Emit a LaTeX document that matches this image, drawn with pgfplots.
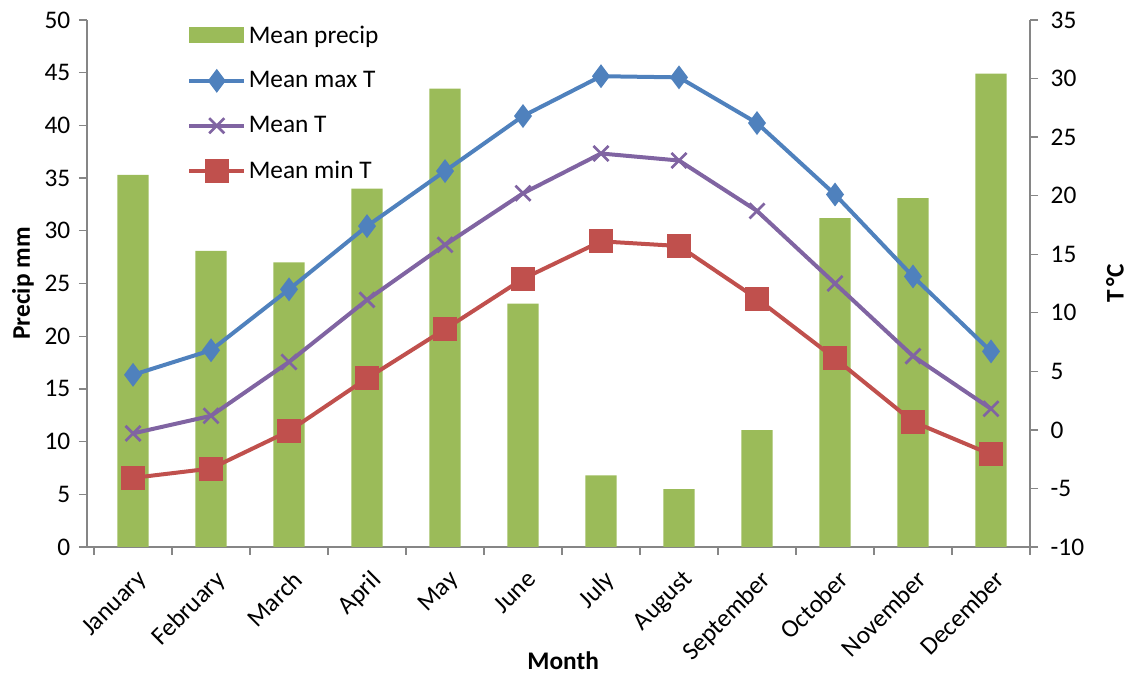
\documentclass[border=0pt]{standalone}
\usepackage{pgfplots}
\pgfplotsset{compat=1.18}
\usepackage{fontspec}
\setmainfont{Carlito}

\definecolor{precipgreen}{HTML}{9BBB59}
\definecolor{maxblue}{HTML}{4F81BD}
\definecolor{meanpurple}{HTML}{8064A2}
\definecolor{minred}{HTML}{C0504D}
\definecolor{axisgray}{HTML}{868686}

\pgfplotsset{
  climate base/.style={
    scale only axis,
    width=707.25pt, height=395.25pt,
    xmin=-0.59, xmax=11.5,
    tick align=outside,
    major tick length=6pt, minor tick length=6pt,
    axis line style={axisgray, line width=1pt, -},
    every tick/.style={axisgray, line width=1pt},
    /pgf/number format/assume math mode=true,
  },
  temp line legend/.style={
    legend image code/.code={
      \draw[##1] (0pt,0pt) -- (41pt,0pt);
      \draw[##1, mark repeat=2, mark phase=2] plot coordinates {(0pt,0pt) (20.5pt,0pt) (41pt,0pt)};
    }
  },
}

\begin{document}
\begin{tikzpicture}[font=\fontsize{19}{22}\selectfont]
\useasboundingbox (-65.25pt,-97.5pt) rectangle (783.75pt,410.25pt);
% precipitation bars on the left axis
\begin{axis}[
  climate base,
  ymin=0, ymax=50,
  axis x line*=bottom, axis y line*=left,
  ytick={0,5,...,50},
  yticklabel style={xshift=-3pt},
  xtick={0,...,11},
  xticklabels={January,February,March,April,May,June,July,August,September,October,November,December},
  major x tick style={draw=none},
  minor xtick={-0.5,0.5,...,11.5},
  xticklabel style={yshift=-9pt, xshift=2pt, rotate=45, anchor=north east, inner sep=1pt},
  ylabel={\bfseries Precip mm},
  ylabel style={at={(axis description cs:-0.068,0.5)}, anchor=center},
  xlabel={\bfseries Month},
  xlabel style={at={(axis description cs:0.505,-0.215)}, anchor=center},
]
\addplot[ybar, bar width=0.4, fill=precipgreen, draw=none] coordinates {
  (0,35.3) (1,28.1) (2,27.0) (3,34.0) (4,43.5) (5,23.1)
  (6,6.8) (7,5.5) (8,11.1) (9,31.2) (10,33.1) (11,44.9)
};
\end{axis}
% temperature lines on the right axis
\begin{axis}[
  climate base,
  ymin=-10, ymax=35,
  axis y line*=right, axis x line=none,
  ytick={-10,-5,...,35},
  yticklabel style={xshift=6pt},
  ylabel={\bfseries T\,°C},
  ylabel style={at={(axis description cs:1.09,0.5)}, anchor=center},
  legend style={at={(0.102,1.0)}, anchor=north west, draw=none, fill=none,
    row sep=16pt, font=\fontsize{19}{22}\selectfont},
  legend cell align=left,
]
\addlegendimage{area legend, fill=precipgreen, draw=none,
  legend image code/.code={\fill[precipgreen] (0pt,-6pt) rectangle (41pt,6pt);}}
\addlegendentry{Mean precip}
\addplot[maxblue, line width=3pt, mark=diamond*, mark size=6.5pt, temp line legend] coordinates {
  (0,4.7) (1,6.8) (2,12.0) (3,17.4) (4,22.1) (5,26.8)
  (6,30.2) (7,30.1) (8,26.2) (9,20.1) (10,13.1) (11,6.7)
};
\addlegendentry{Mean max T}
\addplot[meanpurple, line width=3pt, mark=x, mark size=8pt, mark options={line width=2pt}, temp line legend] coordinates {
  (0,-0.3) (1,1.2) (2,5.8) (3,11.1) (4,15.8) (5,20.2)
  (6,23.6) (7,23.0) (8,18.7) (9,12.5) (10,6.3) (11,1.8)
};
\addlegendentry{Mean T}
\addplot[minred, line width=3pt, mark=square*, mark size=7.5pt, temp line legend] coordinates {
  (0,-4.1) (1,-3.3) (2,-0.1) (3,4.4) (4,8.6) (5,12.9)
  (6,16.1) (7,15.7) (8,11.2) (9,6.1) (10,0.7) (11,-2.1)
};
\addlegendentry{Mean min T}
\end{axis}
\end{tikzpicture}
\end{document}
